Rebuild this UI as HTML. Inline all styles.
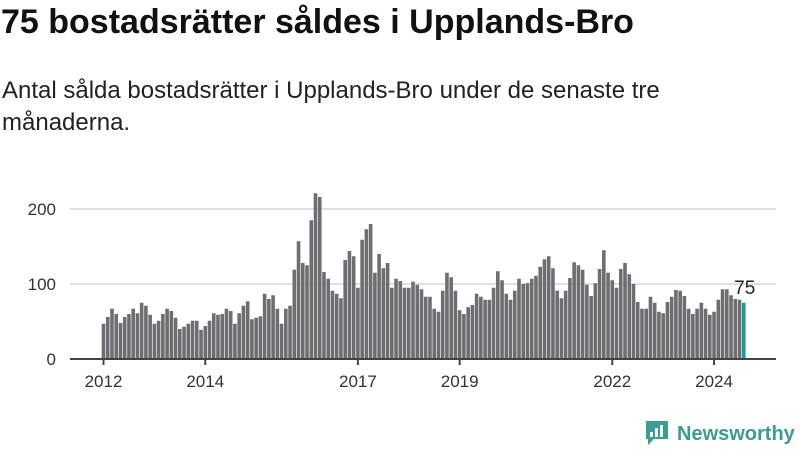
<!DOCTYPE html>
<html><head><meta charset="utf-8">
<style>
body{margin:0;background:#fff;font-family:"Liberation Sans",sans-serif;}
#wrap{position:relative;width:800px;height:450px;overflow:hidden;}
h1{position:absolute;left:1px;top:3px;margin:0;font-size:34px;font-weight:bold;color:#111;white-space:nowrap;}
p{position:absolute;left:2px;top:75px;margin:0;font-size:24px;line-height:32px;color:#222;width:700px;}
svg{position:absolute;left:0;top:0;}
</style></head>
<body><div id="wrap">
<h1>75 bostadsrätter såldes i Upplands-Bro</h1>
<p>Antal sålda bostadsrätter i Upplands-Bro under de senaste tre månaderna.</p>
<svg id="chart" width="800" height="450"></svg>
</div>
<script>
const values=[47,56,67,60,48,56,60,67,61,75,71,59,47,51,60,67,64,55,40,43,47,51,51,39,44,51,61,59,60,67,64,47,61,71,77,53,55,57,87,80,85,67,47,67,71,119,157,128,125,185,221,216,116,107,91,87,81,132,144,137,95,159,173,180,115,140,121,128,95,107,104,95,95,103,99,93,83,83,67,63,91,115,109,91,65,60,69,72,87,83,79,79,95,117,105,87,79,91,107,100,101,107,111,123,133,137,121,91,81,91,108,129,125,119,99,84,101,120,145,115,105,95,120,128,113,100,76,67,67,83,75,63,61,76,83,92,91,84,67,60,67,75,67,59,63,79,93,93,85,80,79,75];
const startYear=2012;
const yTicks=[0,100,200];
const xTickYears=[2012,2014,2017,2019,2022,2024];
const NS="http://www.w3.org/2000/svg";
const svg=document.getElementById('chart');
const x0=103.5,step=4.24,baseY=359,ppu=0.75;
const xPos=i=>x0+i*step;
const yPos=v=>baseY-v*ppu;
function mk(t,a){const e=document.createElementNS(NS,t);for(const k in a)e.setAttribute(k,a[k]);svg.appendChild(e);return e;}
yTicks.forEach(v=>{
 if(v>0){const g=mk('line',{x1:70,x2:776,y1:yPos(v),y2:yPos(v),stroke:'#e0e0e0','stroke-width':2});
 
 }
 const t=mk('text',{x:56,y:yPos(v)+6,'text-anchor':'end','font-size':17,fill:'#333'});
 t.textContent=v;
 
 
});
values.forEach((v,i)=>{
 const last=i===values.length-1;
 const r=mk('rect',{x:xPos(i)-1.8,y:yPos(v),width:3.6,height:v*ppu,fill:last?'#179e99':'#6e6d72'});
 
 
});
const lv=mk('text',{x:xPos(values.length-1)+1,y:yPos(values[values.length-1])-9,'text-anchor':'middle','font-size':19,fill:'#222'});
lv.textContent=values[values.length-1];


const ax=mk('line',{x1:70,x2:776,y1:baseY,y2:baseY,stroke:'#444','stroke-width':2});


xTickYears.forEach(yr=>{
 const x=xPos((yr-startYear)*12);
 const tk=mk('line',{x1:x,x2:x,y1:baseY,y2:baseY+6,stroke:'#444','stroke-width':2});
 
 
 const t=mk('text',{x:x,y:387,'text-anchor':'middle','font-size':17,fill:'#333'});
 t.textContent=yr;
 
 
});
const logo=mk('g',{});


const ic=document.createElementNS(NS,'path');
ic.setAttribute('d','M646 421h22v18h-14l-6 6v-6h-2z');ic.setAttribute('fill','#3b9c94');logo.appendChild(ic);
[[650,432,3,5],[655,428,3,9],[660,425,3,12]].forEach(b=>{const r=document.createElementNS(NS,'rect');r.setAttribute('x',b[0]);r.setAttribute('y',b[1]);r.setAttribute('width',b[2]);r.setAttribute('height',b[3]);r.setAttribute('fill','#fff');logo.appendChild(r);});
const lt=document.createElementNS(NS,'text');lt.setAttribute('x',677);lt.setAttribute('y',440);lt.setAttribute('font-size',20);lt.setAttribute('font-weight','bold');lt.setAttribute('fill','#3b9c94');lt.textContent='Newsworthy';logo.appendChild(lt);
</script>
</body></html>
